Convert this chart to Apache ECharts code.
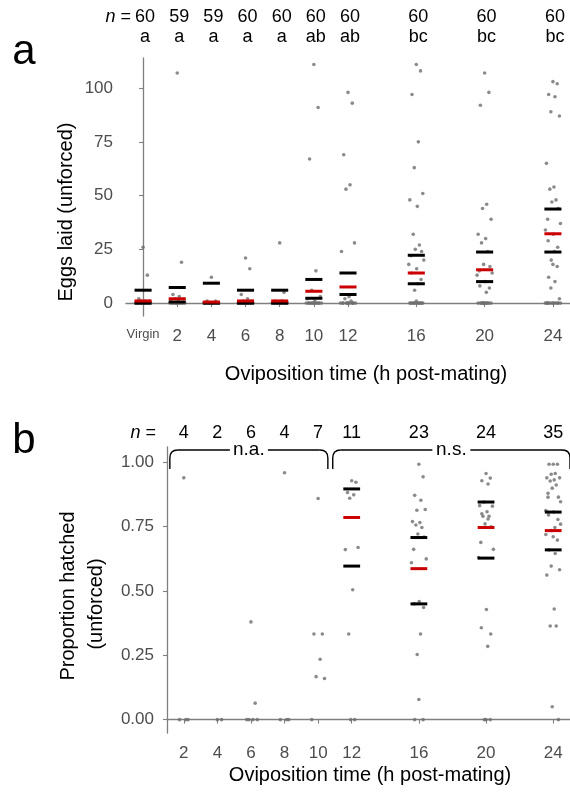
<!DOCTYPE html>
<html><head><meta charset="utf-8">
<script src="https://cdn.jsdelivr.net/npm/echarts@6/dist/echarts.min.js"></script>
<style>html,body{margin:0;padding:0;background:#fff}#c{width:570px;height:792px}</style>
</head><body><div id="c"></div>
<script>
// ---------- Panel a: eggs laid ----------
const groupsA = [0, 2, 4, 6, 8, 10, 12, 16, 20, 24];
const nA = [60, 59, 59, 60, 60, 60, 60, 60, 60, 60];
const lettersA = ['a', 'a', 'a', 'a', 'a', 'ab', 'ab', 'bc', 'bc', 'bc'];
const eggsVirgin = [26, 13, 2, 1, 1, 1, 0, 0, 0, 0, 0, 0, 0, 0, 0, 0, 0, 0, 0, 0];
const eggs2 = [107, 19, 4, 3, 2, 2, 1, 1, 0, 0, 0, 0, 0, 0, 0, 0, 0, 0, 0, 0];
const eggs4 = [12, 1, 1, 0, 0, 0, 0, 0, 0, 0, 0, 0, 0, 0, 0, 0, 0];
const eggs6 = [21, 16, 4, 2, 1, 1, 0, 0, 0, 0, 0, 0, 0, 0, 0, 0, 0, 0, 0, 0];
const eggs8 = [28, 5, 1, 1, 0, 0, 0, 0, 0, 0, 0, 0, 0, 0, 0, 0, 0, 0];
const eggs10 = [111, 91, 67, 15, 6, 3, 2, 1, 0, 0, 0, 0, 0, 0, 0, 0, 0, 0, 0, 0];
const eggs12 = [98, 93, 69, 55, 53, 28, 24, 3, 2, 1, 0, 0, 0, 0, 0, 0, 0, 0, 0, 0, 0, 0];
const eggs16 = [111, 108, 97, 75, 63, 51, 48, 45, 32, 27, 25, 24, 22, 20, 18, 16, 14, 11, 9, 6, 1, 0, 0, 0, 0, 0, 0, 0, 0, 0, 0, 0, 0];
const eggs20 = [107, 98, 92, 46, 44, 39, 32, 30, 28, 24, 18, 17, 15, 14, 13, 10, 8, 7, 5, 0, 0, 0, 0, 0, 0, 0, 0, 0, 0, 0, 0];
const eggs24 = [103, 102, 97, 96, 89, 87, 65, 54, 53, 48, 47, 44, 39, 37, 34, 32, 29, 26, 24, 20, 18, 17, 12, 10, 7, 2, 0, 0, 0, 0, 0, 0, 0, 0, 0, 0, 0, 0];
const eggsByGroup = [eggsVirgin, eggs2, eggs4, eggs6, eggs8, eggs10, eggs12, eggs16, eggs20, eggs24];
const medianA = [1, 2, 0.5, 1, 1, 5.5, 7.5, 14, 15.5, 32.25];
const q1A = [0, 0.5, 0, 0, 0, 2.25, 4, 9, 10, 23.75];
const q3A = [6, 7.25, 9.25, 6, 6, 11, 14, 22.25, 23.75, 43.75];
const xTicksA = [2, 4, 6, 8, 10, 12, 16, 20, 24];
const xLabelsA = [0, 2, 4, 6, 8, 10, 12, 16, 20, 24];
const yTicksA = [0, 25, 50, 75, 100];

// ---------- Panel b: proportion hatched ----------
const groupsB = [2, 4, 6, 8, 10, 12, 16, 20, 24];
const nB = [4, 2, 6, 4, 7, 11, 23, 24, 35];
const hatch2 = [0.94, 0, 0, 0];
const hatch4 = [0, 0];
const hatch6 = [0.38, 0.064, 0, 0, 0, 0];
const hatch8 = [0.96, 0, 0, 0];
const hatch10 = [0.86, 0.333, 0.333, 0.235, 0.167, 0.16, 0];
const hatch12 = [0.929, 0.923, 0.883, 0.874, 0.861, 0.669, 0.661, 0.505, 0.333, 0, 0];
const hatch16 = [0.993, 0.944, 0.872, 0.853, 0.814, 0.817, 0.77, 0.766, 0.757, 0.747, 0.722, 0.71, 0.662, 0.625, 0.61, 0.459, 0.45, 0.436, 0.333, 0.253, 0.078, 0, 0];
const hatch20 = [0.957, 0.939, 0.929, 0.916, 0.846, 0.83, 0.832, 0.808, 0.791, 0.791, 0.761, 0.75, 0.689, 0.662, 0.63, 0.428, 0.357, 0.333, 0.285, 0, 0, 0, 0.8, 0.78];
const hatch24 = [0.993, 0.993, 0.993, 0.957, 0.954, 0.94, 0.94, 0.932, 0.928, 0.912, 0.9, 0.865, 0.865, 0.847, 0.813, 0.807, 0.796, 0.778, 0.747, 0.735, 0.711, 0.698, 0.66, 0.646, 0.597, 0.583, 0.562, 0.43, 0.364, 0.364, 0.05, 0, 0.88, 0.76, 0.72];
const hatchByGroup = [hatch2, hatch4, hatch6, hatch8, hatch10, hatch12, hatch16, hatch20, hatch24];
const statGroupsB = [12, 16, 20, 24];
const medianB = [0.786, 0.587, 0.747, 0.735];
const q1B = [0.597, 0.45, 0.628, 0.66];
const q3B = [0.897, 0.708, 0.846, 0.807];
const xTicksB = [2, 4, 6, 8, 10, 12, 16, 20, 24];
const yTicksB = [0, 0.25, 0.5, 0.75, 1];

// horizontal jitter pattern (hours), cycled per point
const JIT = [0, 0.25, -0.25, 0.12, -0.12, 0.38, -0.38, 0.06, -0.18, 0.18, -0.06, 0.31, -0.31, 0.44, -0.44, 0.02, -0.28, 0.28, 0.1, -0.1];

const FONT = 'Liberation Sans, Arial, sans-serif';
const AXC = '#7f7f7f';
const LBC = '#4d4d4d';

function jittered(groups, lists) {
  const out = [];
  groups.forEach((g, gi) => lists[gi].forEach((v, i) => out.push([g + JIT[i % JIT.length], v])));
  return out;
}
function barRender(color) {
  return function (params, api) {
    const x = api.value(0), y = api.value(1);
    const a = api.coord([x - 0.5, y]), b = api.coord([x + 0.5, y]);
    return { type: 'line', shape: { x1: a[0], y1: a[1], x2: b[0], y2: b[1] }, style: { stroke: color, lineWidth: 3 } };
  };
}
const quartA = [];
groupsA.forEach((g, i) => { quartA.push([g, q1A[i]]); quartA.push([g, q3A[i]]); });
const medA = groupsA.map((g, i) => [g, medianA[i]]);
const quartB = [];
statGroupsB.forEach((g, i) => { quartB.push([g, q1B[i]]); quartB.push([g, q3B[i]]); });
const medB = statGroupsB.map((g, i) => [g, medianB[i]]);

function xAxisCfg(gridIndex, min, max, ticks, labels, virgin) {
  return {
    type: 'value', gridIndex, min, max,
    axisLine: { show: true, lineStyle: { color: AXC, width: 1.3 } },
    axisTick: { show: true, length: 4, lineStyle: { color: AXC, width: 1.1 }, customValues: ticks },
    axisLabel: {
      show: true, customValues: labels, margin: 12, color: LBC, fontSize: 17, fontFamily: FONT,
      formatter: v => (v === 0 && virgin) ? '{v|Virgin}' : String(v),
      rich: { v: { fontSize: 13, color: LBC, fontFamily: FONT, padding: [0, 0, 3, 0] } }
    },
    splitLine: { show: false }
  };
}
function yAxisCfg(gridIndex, min, max, ticks, fmt) {
  return {
    type: 'value', gridIndex, min, max,
    axisLine: { show: true, lineStyle: { color: AXC, width: 1.3 } },
    axisTick: { show: true, length: 4, lineStyle: { color: AXC, width: 1.1 }, customValues: ticks },
    axisLabel: { show: true, customValues: ticks, margin: 13, color: LBC, fontSize: 17, fontFamily: FONT, formatter: fmt },
    splitLine: { show: false }
  };
}

const chart = echarts.init(document.getElementById('c'), null, { renderer: 'canvas' });
chart.setOption({
  animation: false,
  backgroundColor: '#fff',
  grid: [
    { left: 126, top: 58, height: 258, right: -8 },
    { left: 167, top: 447, height: 286, right: -5 }
  ],
  xAxis: [
    xAxisCfg(0, -1, 25, xTicksA, xLabelsA, true),
    xAxisCfg(1, 1, 25, xTicksB, xTicksB, false)
  ],
  yAxis: [
    yAxisCfg(0, -6, 114, yTicksA, v => String(v)),
    yAxisCfg(1, -0.052, 1.06, yTicksB, v => v.toFixed(2))
  ],
  series: [
    { type: 'scatter', xAxisIndex: 0, yAxisIndex: 0, data: jittered(groupsA, eggsByGroup), symbolSize: 3.6, itemStyle: { color: '#6e6e6e' }, z: 2 },
    { type: 'custom', xAxisIndex: 0, yAxisIndex: 0, data: quartA, renderItem: barRender('#000000'), z: 3 },
    { type: 'custom', xAxisIndex: 0, yAxisIndex: 0, data: medA, renderItem: barRender('#cc0000'), z: 4 },
    { type: 'scatter', xAxisIndex: 1, yAxisIndex: 1, data: jittered(groupsB, hatchByGroup), symbolSize: 3.6, itemStyle: { color: '#6e6e6e' }, z: 2 },
    { type: 'custom', xAxisIndex: 1, yAxisIndex: 1, data: quartB, renderItem: barRender('#000000'), z: 3 },
    { type: 'custom', xAxisIndex: 1, yAxisIndex: 1, data: medB, renderItem: barRender('#cc0000'), z: 4 }
  ]
});

// ---------- annotations ----------
const g = [];
const txt = (x, y, text, opt) => g.push({ type: 'text', x, y, style: Object.assign({ text, fill: '#000', font: '18px ' + FONT, align: 'center', verticalAlign: 'middle' }, opt || {}) });
// panel letters
txt(24, 52, 'a', { font: '42px ' + FONT });
txt(24, 441, 'b', { font: '42px ' + FONT });
// n labels and letters panel a
g.push({ type: 'text', x: 131, y: 17, style: { text: '{i|n} =', align: 'right', verticalAlign: 'middle', fill: '#000', font: '18px ' + FONT, rich: { i: { fontStyle: 'italic', fontSize: 18, fontFamily: FONT } } } });
groupsA.forEach((x, i) => {
  const px = chart.convertToPixel({ xAxisIndex: 0 }, x) + 2;
  txt(px, 17, String(nA[i]));
  txt(px, 37, lettersA[i]);
});
// panel b n labels
g.push({ type: 'text', x: 156, y: 433, style: { text: '{i|n} =', align: 'right', verticalAlign: 'middle', fill: '#000', font: '18px ' + FONT, rich: { i: { fontStyle: 'italic', fontSize: 18, fontFamily: FONT } } } });
groupsB.forEach((x, i) => {
  const px = chart.convertToPixel({ xAxisIndex: 1 }, x);
  txt(px, 433, String(nB[i]));
});
// axis titles
txt(366, 374, 'Oviposition time (h post-mating)', { font: '20px ' + FONT });
txt(370, 775, 'Oviposition time (h post-mating)', { font: '20px ' + FONT });
g.push({ type: 'text', x: 66, y: 212, rotation: Math.PI / 2, style: { text: 'Eggs laid (unforced)', fill: '#000', font: '20px ' + FONT, align: 'center', verticalAlign: 'middle' } });
g.push({ type: 'text', x: 68, y: 596, rotation: Math.PI / 2, style: { text: 'Proportion hatched', fill: '#000', font: '20px ' + FONT, align: 'center', verticalAlign: 'middle' } });
g.push({ type: 'text', x: 96, y: 604, rotation: Math.PI / 2, style: { text: '(unforced)', fill: '#000', font: '20px ' + FONT, align: 'center', verticalAlign: 'middle' } });
// brackets
function bracket(x0, x1, label, tw) {
  const yl = 450, yb = 469, r = 8, mid = (x0 + x1) / 2;
  const st = { stroke: '#000', lineWidth: 1.4, fill: null };
  g.push({ type: 'line', shape: { x1: x0, y1: yb, x2: x0, y2: yl + r }, style: st });
  g.push({ type: 'bezierCurve', shape: { x1: x0, y1: yl + r, cpx1: x0, cpy1: yl, x2: x0 + r, y2: yl }, style: st });
  g.push({ type: 'line', shape: { x1: x0 + r, y1: yl, x2: mid - tw / 2 - 3, y2: yl }, style: st });
  g.push({ type: 'line', shape: { x1: mid + tw / 2 + 3, y1: yl, x2: x1 - r, y2: yl }, style: st });
  g.push({ type: 'bezierCurve', shape: { x1: x1 - r, y1: yl, cpx1: x1, cpy1: yl, x2: x1, y2: yl + r }, style: st });
  g.push({ type: 'line', shape: { x1: x1, y1: yl + r, x2: x1, y2: yb }, style: st });
  txt(mid, 450, label, { font: '19px ' + FONT });
}
const bx = v => chart.convertToPixel({ xAxisIndex: 1 }, v);
bracket(bx(1.17), bx(10.58), 'n.a.', 32);
bracket(bx(10.87), bx(25.0), 'n.s.', 32);
chart.setOption({ graphic: g });
</script></body></html>
